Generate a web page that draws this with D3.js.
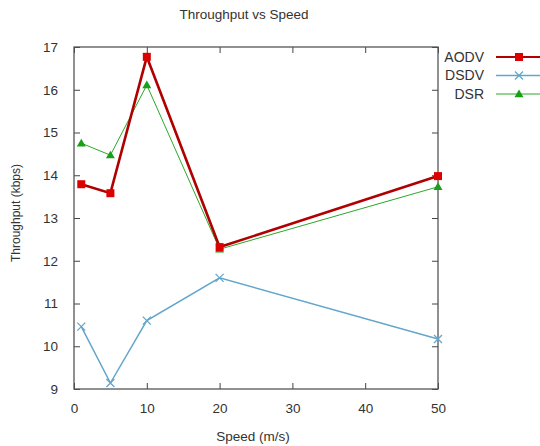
<!DOCTYPE html>
<html>
<head>
<meta charset="utf-8">
<script src="https://cdn.jsdelivr.net/npm/d3@7"></script>
<style>
  body { margin: 0; background: #fff; }
  text { font-family: "Liberation Sans", Arial, sans-serif; fill: #333; }
</style>
</head>
<body>
<div id="chart"></div>
<script>
// data
const speeds = [1, 5, 10, 20, 50]
const aodv = [13.79, 13.58, 16.77, 12.32, 13.98]
const dsdv = [10.46, 9.14, 10.6, 11.6, 10.17]
const dsr = [14.75, 14.47, 16.11, 12.27, 13.73]
const xTicks = [0, 10, 20, 30, 40, 50]
const yTicks = [9, 10, 11, 12, 13, 14, 15, 16, 17]

const series = [
    { name: "AODV", values: aodv, line: "#b00000", mark: "#dd0000", width: 2.6, shape: "square" },
    { name: "DSDV", values: dsdv, line: "#62a6ca", mark: "#62a6ca", width: 1.5, shape: "cross" },
    { name: "DSR", values: dsr, line: "#2aa82a", mark: "#18a018", width: 1, shape: "triangle" }
]

const width = 540, height = 446
const margin = ({ top: 47, right: 102, bottom: 57, left: 74 })
const iw = width - margin.left - margin.right
const ih = height - margin.top - margin.bottom

const x = d3.scaleLinear().domain([0, 50]).range([0, iw])
const y = d3.scaleLinear().domain([9, 17]).range([ih, 0])

const svg = d3.select("#chart")
    .append("svg")
    .attr("width", width)
    .attr("height", height)

const g = svg.append("g")
    .attr("transform", `translate(${margin.left},${margin.top})`)

// inward ticks on all four sides
const tickLen = 6
g.append("g")
    .attr("transform", `translate(0,${ih})`)
    .call(d3.axisBottom(x).tickValues(xTicks).tickSize(-tickLen).tickPadding(14))
    .call(a => a.select(".domain").remove())
g.append("g")
    .call(d3.axisTop(x).tickValues(xTicks).tickSize(-tickLen).tickFormat(""))
    .call(a => a.select(".domain").remove())
g.append("g")
    .call(d3.axisLeft(y).tickValues(yTicks).tickSize(-tickLen).tickPadding(16))
    .call(a => a.select(".domain").remove())
g.append("g")
    .attr("transform", `translate(${iw},0)`)
    .call(d3.axisRight(y).tickValues(yTicks).tickSize(-tickLen).tickFormat(""))
    .call(a => a.select(".domain").remove())

g.selectAll(".tick line").attr("stroke", "#444")
g.selectAll(".tick text").attr("font-size", 13.5).attr("fill", "#333")

g.append("rect")
    .attr("width", iw)
    .attr("height", ih)
    .attr("fill", "none")
    .attr("stroke", "#555")
    .attr("stroke-width", 1.3)

const line = d3.line()
    .x((d, i) => x(speeds[i]))
    .y(d => y(d))

function marker(sel, s) {
    if (s.shape === "square") {
        sel.append("rect").attr("x", -4).attr("y", -4).attr("width", 8).attr("height", 8)
            .attr("fill", s.mark)
    } else if (s.shape === "cross") {
        sel.append("path").attr("d", "M-4,-4L4,4M-4,4L4,-4")
            .attr("stroke", s.mark).attr("stroke-width", 1.3).attr("fill", "none")
    } else {
        sel.append("path").attr("d", "M0,-4.5L4.5,3.2L-4.5,3.2Z").attr("fill", s.mark)
    }
}

// draw DSDV, DSR first, AODV last on top
for (const s of [series[1], series[2], series[0]]) {
    g.append("path")
        .datum(s.values)
        .attr("fill", "none")
        .attr("stroke", s.line)
        .attr("stroke-width", s.width)
        .attr("stroke-linejoin", "miter")
        .attr("d", line)
    g.append("g")
        .selectAll("g")
        .data(s.values)
        .join("g")
        .attr("transform", (d, i) => `translate(${x(speeds[i])},${y(d)})`)
        .each(function () { marker(d3.select(this), s) })
}

// legend
const legend = svg.append("g")
series.forEach((s, i) => {
    const ly = 57 + i * 18.5
    legend.append("text")
        .attr("x", 484).attr("y", ly).attr("dy", "0.35em")
        .attr("text-anchor", "end")
        .attr("font-size", 14)
        .text(s.name)
    legend.append("line")
        .attr("x1", 496).attr("x2", 545).attr("y1", ly).attr("y2", ly)
        .attr("stroke", s.line).attr("stroke-width", Math.min(s.width, 2))
    legend.append("g")
        .attr("transform", `translate(519,${ly})`)
        .call(sel => marker(sel, s))
})

svg.append("text")
    .attr("x", 244).attr("y", 19)
    .attr("text-anchor", "middle")
    .attr("font-size", 13.5)
    .text("Throughput vs Speed")

svg.append("text")
    .attr("x", 253).attr("y", 441)
    .attr("text-anchor", "middle")
    .attr("font-size", 13.5)
    .text("Speed (m/s)")

svg.append("text")
    .attr("transform", `translate(20,${margin.top + ih / 2 - 5}) rotate(-90)`)
    .attr("text-anchor", "middle")
    .attr("font-size", 12)
    .text("Throughput (kbps)")
</script>
</body>
</html>
